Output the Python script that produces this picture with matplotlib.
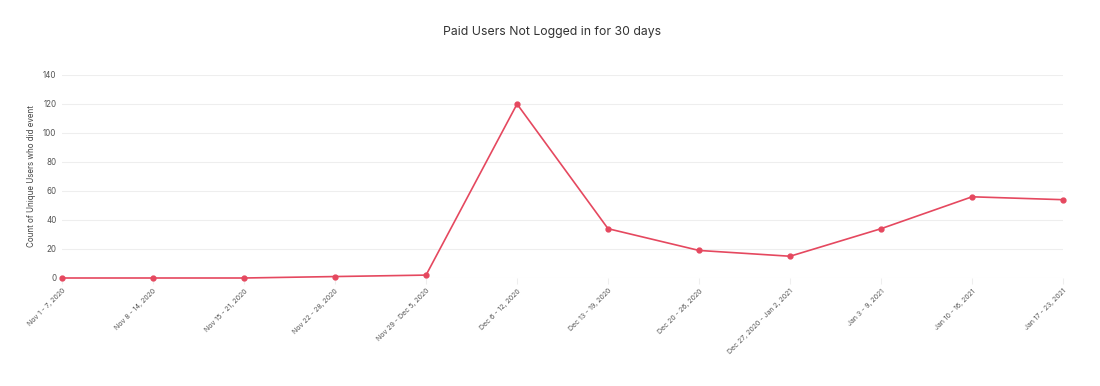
import matplotlib.pyplot as plt

plt.rcParams['font.family'] = ['Inter', 'DejaVu Sans']

weeks = ["Nov 1 - 7, 2020", "Nov 8 - 14, 2020", "Nov 15 - 21, 2020", "Nov 22 - 28, 2020",
         "Nov 29 - Dec 5, 2020", "Dec 6 - 12, 2020", "Dec 13 - 19, 2020", "Dec 20 - 26, 2020",
         "Dec 27, 2020 - Jan 2, 2021", "Jan 3 - 9, 2021", "Jan 10 - 16, 2021", "Jan 17 - 23, 2021"]
users = [0, 0, 0, 1, 2, 120, 34, 19, 15, 34, 56, 54]
yticks = [0, 20, 40, 60, 80, 100, 120, 140]

fig = plt.figure(figsize=(11, 3.86), dpi=100)
ax = fig.add_axes([0.0564, 0.2798, 0.9100, 0.5259])

x = list(range(len(weeks)))
ax.plot(x, users, color="#e5485f", lw=1.2, marker="o", ms=3.5, zorder=3, clip_on=False)

ax.set_xlim(0, len(weeks) - 1)
ax.set_ylim(0, 140)
ax.set_yticks(yticks)
ax.set_xticks(x)
ax.set_xticklabels(weeks, rotation=45, ha="right", rotation_mode="anchor")
ax.grid(axis="y", color="#eeeeee", lw=0.8)
for s in ax.spines.values():
    s.set_visible(False)
ax.tick_params(axis="y", length=0, labelsize=5.8, labelcolor="#555555", pad=4)
ax.tick_params(axis="x", length=4, color="#eeeeee", labelsize=5, labelcolor="#555555", pad=3)
ax.set_ylabel("Count of Unique Users who did event", fontsize=5.8, color="#444444", labelpad=5)

fig.text(0.502, 0.918, "Paid Users Not Logged in for 30 days", ha="center", va="center",
         fontsize=8.8, color="#333333")

fig.savefig("out.png", dpi=100, facecolor="white")
